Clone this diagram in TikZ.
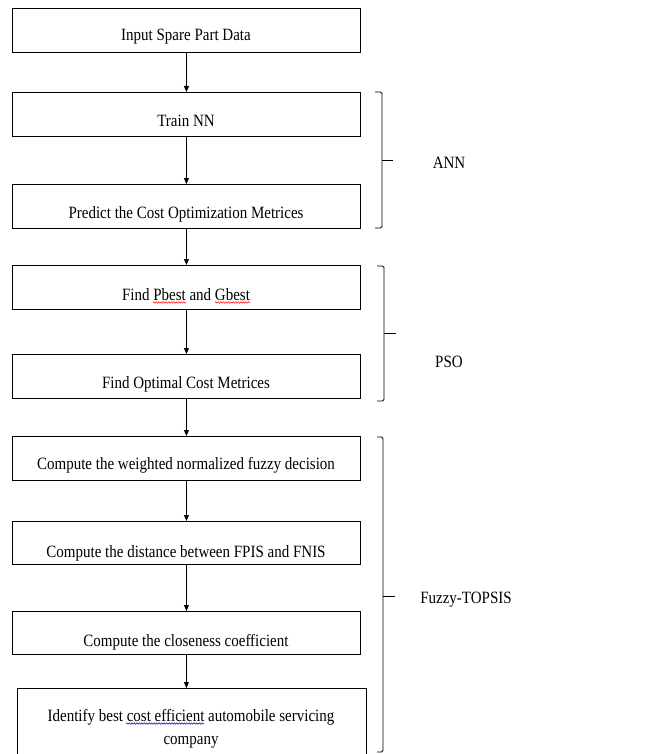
\documentclass[tikz,border=0pt]{standalone}
\usepackage{fontspec}
\setmainfont{Liberation Serif}
\usetikzlibrary{arrows.meta,decorations.pathmorphing}
\newcommand{\tallt}[1]{\scalebox{1}[1.15]{#1}}
\begin{document}
\begin{tikzpicture}[x=1pt,y=-1pt,
  box/.style={draw,line width=0.9pt,minimum width=348pt,minimum height=44pt,inner sep=0pt,anchor=north west},
  txt/.style={anchor=base,inner sep=0pt,font=\fontsize{15pt}{13pt}\selectfont},
  flow/.style={line width=0.8pt,-{Triangle[length=6pt,width=5pt]}},
  brk/.style={line width=0.9pt,rounded corners=1.5pt},
  tick/.style={line width=0.9pt},
  wavy/.style={line width=0.5pt,decorate,decoration={snake,amplitude=0.7pt,segment length=2.5pt}}]
\useasboundingbox (0,0) rectangle (653,754);
% boxes
\node[box] (b1) at (12,8) {};
\node[box] (b2) at (12,92) {};
\node[box] (b3) at (12,184) {};
\node[box] (b4) at (12,265) {};
\node[box] (b5) at (12,354) {};
\node[box] (b6) at (12,436) {};
\node[box,minimum height=43pt] (b7) at (12,521) {};
\node[box,minimum height=43pt] (b8) at (12,611) {};
\node[box,minimum width=349pt,minimum height=72pt] (b9) at (17,688) {};
% texts
\node[txt] (t1) at (186,40.5) {\tallt{Input Spare Part Data}};
\node[txt] (t2) at (186,126.5) {\tallt{Train NN}};
\node[txt] (t3) at (186,218) {\tallt{Predict the Cost Optimization Metrices}};
\node[txt] (t4) at (186,300) {\tallt{Find Pbest and Gbest}};
\node[txt] (t5) at (186,388) {\tallt{Find Optimal Cost Metrices}};
\node[txt] (t6) at (186,469) {\tallt{Compute the weighted normalized fuzzy decision}};
\node[txt] (t7) at (186,557) {\tallt{Compute the distance between FPIS and FNIS}};
\node[txt] (t8) at (186,646) {\tallt{Compute the closeness coefficient}};
\node[txt] (t9a) at (191,721) {\tallt{Identify best cost efficient automobile servicing}};
\node[txt] (t9b) at (191,744) {\tallt{company}};
% arrows
\draw[flow] (b1.south) -- (b2.north);
\draw[flow] (b2.south) -- (b3.north);
\draw[flow] (b3.south) -- (b4.north);
\draw[flow] (b4.south) -- (b5.north);
\draw[flow] (b5.south) -- (b6.north);
\draw[flow] (b6.south) -- (b7.north);
\draw[flow] (b7.south) -- (b8.north);
\coordinate (a9) at (b8.south |- b9.north);
\draw[flow] (b8.south) -- (a9);
% brackets
\draw[brk] (375,92) -- (382,92) -- (382,228) -- (375,228);
\draw[tick] (382,160) -- (393,160);
\draw[brk] (377,266) -- (384,266) -- (384,401) -- (377,401);
\draw[tick] (384,333) -- (396,333);
\draw[brk] (377,437) -- (383,437) -- (383,752) -- (377,752);
\draw[tick] (383,596) -- (395,596);
% group labels
\node[txt] (l1) at (449,168) {\tallt{ANN}};
\node[txt] (l2) at (449,367) {\tallt{PSO}};
\node[txt] (l3) at (466,603) {\tallt{Fuzzy-TOPSIS}};
% spell-check underlines
\draw[wavy,red] (153,302.5) -- (186,302.5);
\draw[wavy,red] (215,302.5) -- (250,302.5);
\draw[wavy,blue!70!black] (126,723.5) -- (204,723.5);
\end{tikzpicture}
\end{document}
